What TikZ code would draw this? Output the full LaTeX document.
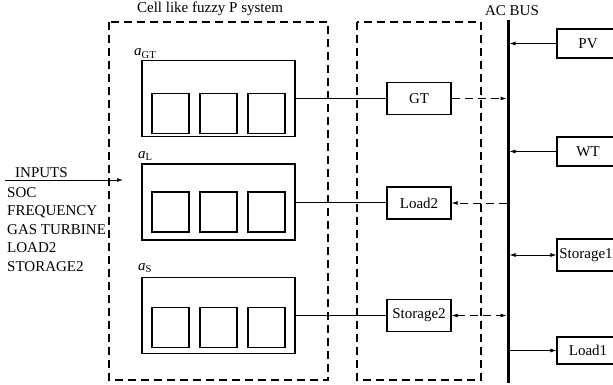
\documentclass[tikz,border=0pt]{standalone}
\usepackage{fontspec}
\setmainfont{Liberation Serif}
\usetikzlibrary{arrows.meta}
\begin{document}
\begin{tikzpicture}[
                x=1pt, y=-1pt,
                every node/.style={font=\fontsize{15}{18.5}\selectfont},
                membrane/.style={draw, line width=1.1pt, minimum width=153pt, minimum height=76pt, inner sep=0pt},
                cell/.style={draw, line width=1.1pt, minimum width=37pt, minimum height=40pt, inner sep=0pt},
                unit/.style={draw, line width=1.1pt, minimum width=64pt, minimum height=32pt, inner sep=0pt},
                source/.style={draw, line width=1.1pt, minimum width=62pt, minimum height=29pt, inner sep=0pt},
                region/.style={line width=1.2pt, dash pattern=on 8pt off 5pt},
                link/.style={line width=0.8pt},
                flow/.style={line width=0.9pt, dash pattern=on 8pt off 5pt},
                tip/.style={-{Latex[length=6pt,width=4pt]}},
                twotip/.style={{Latex[length=6pt,width=4pt]}-{Latex[length=6pt,width=4pt]}},
            ]
            \useasboundingbox (0,0) rectangle (613,385);
            \node (title) at (210,9) {Cell like fuzzy P system};
            \node (acbus) at (512,11) {AC BUS};
            \draw[region] (109,22) rectangle (328,380);
            \draw[region] (357,22) rectangle (481,380);
            \node[membrane] (gt) at (218.5,98.5) {};
            \node[membrane] (l) at (218.5,202) {};
            \node[membrane] (s) at (218.5,315.5) {};
            \foreach \m/\dy in {gt/-15, l/-10, s/-12}
                \foreach \dx [count=\i] in {-48,0,48}
                    \node[cell] (\m-\i) at ([xshift=\dx pt, yshift=\dy pt]\m.center) {};
            \node[anchor=base west, inner sep=0pt] (agt) at (134,56) {\textit{a}\textsubscript{GT}};
            \node[anchor=base west, inner sep=0pt] (al) at (138,158) {\textit{a}\textsubscript{L}};
            \node[anchor=base west, inner sep=0pt] (as) at (138,270) {\textit{a}\textsubscript{S}};
            \node[unit] (gtunit) at (419,98.5) {GT};
            \node[unit] (loadtwo) at (419,203) {Load2};
            \node[unit] (storetwo) at (419,315.5) {Storage2};
            \node[source] (pv) at (588,43.5) {PV};
            \node[source] (wt) at (588,151.5) {WT};
            \node[source, minimum width=58pt, minimum height=32pt] (storeone) at (586,255) {Storage1};
            \node[source, minimum height=27pt] (loadone) at (588,350.5) {Load1};
            \coordinate (bustop) at (508,20);
            \coordinate (busbot) at (508,383);
            \draw[line width=3pt] (bustop) -- (busbot);
            \draw[link] (gt.east) -- (gtunit.west);
            \draw[link] (l.east) -- (l.east -| loadtwo.west);
            \draw[link] (s.east) -- (storetwo.west);
            \draw[flow, tip, shorten >=1.5pt] (gtunit.east) -- (gtunit.east -| bustop);
            \draw[flow, tip, shorten <=1.5pt] (loadtwo.east -| bustop) -- (loadtwo.east);
            \draw[flow, twotip, shorten >=1.5pt] (storetwo.east) -- (storetwo.east -| bustop);
            \draw[link, tip, shorten >=1.5pt] (pv.west) -- (pv.west -| bustop);
            \draw[link, tip, shorten >=1.5pt] (wt.west) -- (wt.west -| bustop);
            \draw[link, twotip, shorten <=1.5pt] (storeone.west -| bustop) -- (storeone.west);
            \draw[link, tip, shorten <=1.5pt] (loadone.west -| bustop) -- (loadone.west);
            \coordinate (instart) at (5,180);
            \coordinate (inend) at (123,180);
            \draw[link, tip] (instart) -- (inend);
            \node[anchor=base west, inner sep=0pt] (inputs) at (15,177) {INPUTS};
            \node[anchor=north west, align=left, inner sep=0pt] (inlist) at (7,187) {SOC\\FREQUENCY\\GAS TURBINE\\LOAD2\\STORAGE2};
            \end{tikzpicture}
\end{document}
